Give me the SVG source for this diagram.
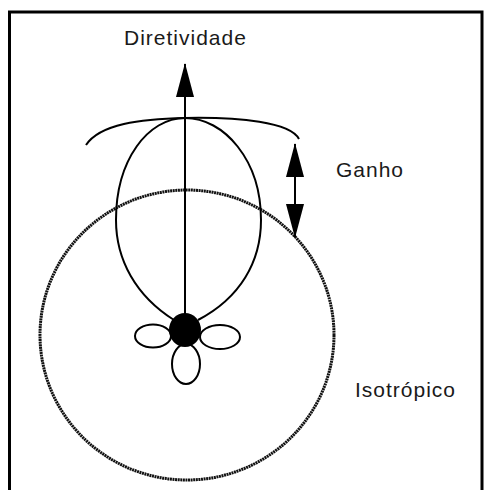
<svg xmlns="http://www.w3.org/2000/svg" width="484" height="490" viewBox="0 0 484 490">
<defs>
<style>
.ln{fill:none;stroke:#000;stroke-width:2}
.lbl{font-family:"Liberation Sans",Arial,sans-serif;font-size:21px;letter-spacing:1px;fill:#1a1a1a}
</style>
<marker id="ah" viewBox="0 0 34 20" refX="33" refY="10" markerWidth="34" markerHeight="20" markerUnits="userSpaceOnUse" orient="auto-start-reverse">
<path d="M0 1 L34 10 L0 19 Z" fill="#000"/>
</marker>
</defs>
<rect width="484" height="490" fill="#fff"/>
<path d="M9.5 500 V12 H482 V500" fill="none" stroke="#000" stroke-width="3"/>
<g id="isotropico">
<ellipse cx="187" cy="335" rx="147" ry="145" fill="none" stroke="#111" stroke-width="3" stroke-dasharray="2 0.6"/>
<text class="lbl" x="355" y="397">Isotrópico</text>
</g>
<g id="lobulo-principal">
<path class="ln" d="M174 320 C136 296 116 260 116 220 C116 160 148 118 185 118 C224 118 261 160 261 220 C261 262 240 298 198 320"/>
</g>
<g id="lobulos-laterais">
<ellipse class="ln" cx="153" cy="336" rx="18" ry="11.5"/>
<ellipse class="ln" cx="220" cy="337" rx="20" ry="12"/>
<ellipse class="ln" cx="186" cy="364" rx="14" ry="20"/>
</g>
<g id="antena">
<ellipse cx="185" cy="330" rx="16" ry="17" fill="#000"/>
</g>
<g id="arco">
<path class="ln" d="M86 145 C100 124 140 119 185 118 C240 117 290 122 299 139"/>
</g>
<g id="conectores">
<line x1="185" y1="64" x2="185" y2="320" stroke="#000" stroke-width="2" marker-start="url(#ah)"/>
<line x1="295" y1="144" x2="295" y2="237" stroke="#000" stroke-width="2" marker-start="url(#ah)" marker-end="url(#ah)"/>
</g>
<g id="diretividade">
<text class="lbl" x="124" y="45">Diretividade</text>
</g>
<g id="ganho">
<text class="lbl" x="336" y="177">Ganho</text>
</g>
</svg>
